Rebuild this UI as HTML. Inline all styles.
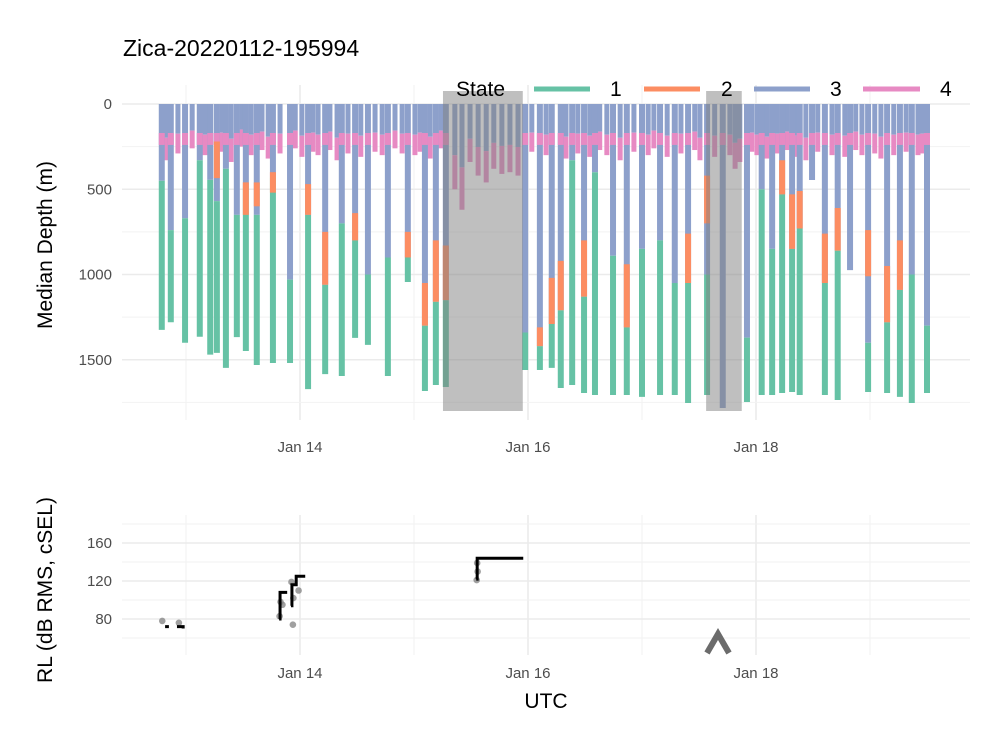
<!DOCTYPE html>
<html><head><meta charset="utf-8"><style>
html,body{margin:0;padding:0;background:#fff}
svg{display:block;font-family:"Liberation Sans",sans-serif}
</style></head><body>
<svg id="c" width="1004" height="750" viewBox="0 0 1004 750">
<text x="123" y="56" font-size="23" fill="#000">Zica-20220112-195994</text>
<g id="topgrid"></g>
<g id="dives"></g>
<g id="shade"></g>
<g id="botgrid"></g>
<g id="rl"></g>
<g id="axes"></g>
<g>
<text x="456" y="96" font-size="21">State</text>
<line x1="534" y1="89" x2="590" y2="89" stroke="#66c2a5" stroke-width="5"/>
<text x="610" y="96" font-size="21">1</text>
<line x1="644" y1="89" x2="700" y2="89" stroke="#fc8d62" stroke-width="5"/>
<text x="721" y="96" font-size="21">2</text>
<line x1="754" y1="89" x2="810" y2="89" stroke="#8da0cb" stroke-width="5"/>
<text x="830" y="96" font-size="21">3</text>
<line x1="863" y1="89" x2="920" y2="89" stroke="#e78ac3" stroke-width="5"/>
<text x="940" y="96" font-size="21">4</text>
</g>
<text x="546" y="708" font-size="21" text-anchor="middle">UTC</text>
<text transform="translate(52,245) rotate(-90)" font-size="21" text-anchor="middle">Median Depth (m)</text>
<text transform="translate(52,590) rotate(-90)" font-size="21" text-anchor="middle">RL (dB RMS, cSEL)</text>
<polyline points="707,653 718,634 729,653" fill="none" stroke="#6b6b6b" stroke-width="6"/>
</svg>
<script>
// hours since Jan 13 00:00 UTC
const deepHours=[-5.1,-3.2,-0.2,2.9,5.1,6.5,8.4,10.7,12.6,14.9,18.3,21.9,25.7,29.3,32.8,35.6,38.3,42.5,46.7,50.3,52.6,54.7,
71.4,74.5,77.0,78.9,81.3,83.8,86.1,89.9,92.8,96.0,99.8,102.9,105.7,109.7,113.0,118.1,121.2,123.4,125.5,127.6,129.2,131.8,134.5,137.2,139.8,143.6,147.6,150.3,152.8,156.0];
const deepDepth=[1325,1280,1400,1365,1470,1460,1548,1367,1449,1531,1519,1519,1672,1584,1595,1372,1413,1595,1044,1683,1648,1660,
1560,1560,1548,1666,1648,1695,1707,1707,1707,1718,1707,1707,1754,1707,1783,1748,1707,1707,1695,1689,1707,446,1707,1736,974,1689,1695,1718,1754,1695];
const greenFrom=[450,740,670,330,445,570,380,650,480,650,430,1030,650,1060,700,800,1000,900,900,1300,1160,1150,
1340,1420,1290,1210,330,1130,400,890,1310,850,800,1050,1050,1000,1783,1370,500,850,530,850,730,9999,1050,860,1000,1400,1280,1090,1000,1300];
const orangeFrom=[0,0,0,0,0,220,0,0,460,460,400,0,470,750,0,640,0,0,750,1050,800,830,
0,1310,1020,920,0,800,0,0,940,0,0,0,760,420,0,0,0,0,330,530,510,0,760,610,0,740,950,800,0,0];
const orangeTo=[0,0,0,0,0,435,0,0,650,600,520,0,650,1060,0,800,0,0,900,1300,1160,1150,
0,1420,1290,1210,0,1130,0,0,1310,0,0,0,1050,700,0,0,0,0,530,850,730,0,1050,860,0,1010,1280,1090,0,0];
const shallowHours=[-4.2,-1.7,1.3,4.0,7.6,9.5,11.8,13.7,16.0,17.3,19.8,23.0,24.4,26.7,27.8,30.3,31.8,34.1,36.8,39.8,41.3,44.0,45.5,48.2,49.3,51.4,53.7,
56.6,58.1,59.8,61.5,63.2,64.8,66.5,68.2,69.9,
72.8,75.8,80.0,82.5,85.0,87.1,88.6,91.4,94.3,97.3,98.5,101.3,104.2,107.1,108.2,111.3,114.5,115.6,116.6,119.1,120.2,122.3,124.4,126.5,128.6,130.5,133.0,136.0,138.7,141.0,142.3,145.0,146.3,149.0,151.6,154.1,154.9];
const shallowDepth=[330,290,260,300,280,340,250,300,270,320,290,260,310,280,300,270,330,290,310,280,300,260,290,300,280,320,260,
500,620,340,420,460,380,410,400,420,
280,300,320,290,310,270,300,330,280,300,260,310,290,270,330,310,300,380,340,280,300,320,290,270,310,330,280,300,310,270,300,290,320,300,280,300,290];
const shadeStart=[54.1,109.5];
const shadeEnd=[70.9,117.0];
const rlHours=[-4.4,-3.6,null,-1.9,-0.6,null,19.6,19.8,21.3,null,22.1,22.3,23.1,23.2,25.1,null,61.1,61.3,71.0];
const rlValues=[72,72,null,72,70,null,80,108,108,null,94,116,116,125,125,null,122,144,144];
const ptHours=[-5.0,-1.5,19.7,19.9,20.3,22.5,22.2,22.6,23.7,61.2,61.4,61.3];
const ptValues=[78,76,83,98,95,74,119,102,110,121,130,139];
const yTicksDepth=[0,500,1000,1500];
const yTicksRL=[80,120,160];
const xTickHours=[24,72,120];
const xTickLabels=["Jan 14","Jan 16","Jan 18"];

const NS="http://www.w3.org/2000/svg";
const xS=h=>186+h*114/24;
const yD=d=>104+d*0.1705;
const yR=v=>619-(v-80)*0.95;
function mk(tag,attrs,parent){const e=document.createElementNS(NS,tag);for(const k in attrs)e.setAttribute(k,attrs[k]);parent.appendChild(e);return e;}
const G=id=>document.getElementById(id);

const tg=G('topgrid');
[24,72,120].forEach(h=>{const l=mk('line',{x1:xS(h),x2:xS(h),y1:85,y2:420,stroke:'#ebebeb','stroke-width':1.6},tg);});
[0,48,96,144].forEach(h=>{const l=mk('line',{x1:xS(h),x2:xS(h),y1:85,y2:420,stroke:'#f2f2f2','stroke-width':1},tg);});
yTicksDepth.forEach(d=>{const l=mk('line',{x1:122,x2:970,y1:yD(d),y2:yD(d),stroke:'#ebebeb','stroke-width':1.6},tg);});
[250,750,1250,1750].forEach(d=>{const l=mk('line',{x1:122,x2:970,y1:yD(d),y2:yD(d),stroke:'#f2f2f2','stroke-width':1},tg);});
const bg=G('botgrid');
[24,72,120].forEach(h=>{const l=mk('line',{x1:xS(h),x2:xS(h),y1:515,y2:655,stroke:'#ebebeb','stroke-width':1.6},bg);});
[0,48,96,144].forEach(h=>{const l=mk('line',{x1:xS(h),x2:xS(h),y1:515,y2:655,stroke:'#f2f2f2','stroke-width':1},bg);});
yTicksRL.forEach(v=>{const l=mk('line',{x1:122,x2:970,y1:yR(v),y2:yR(v),stroke:'#ebebeb','stroke-width':1.6},bg);});
[60,100,140,180].forEach(v=>{const l=mk('line',{x1:122,x2:970,y1:yR(v),y2:yR(v),stroke:'#f2f2f2','stroke-width':1},bg);});

const dv=G('dives');
function seg(h,a,b,col,w,parent){if(b<=a)return;const l=mk('line',{x1:xS(h),x2:xS(h),y1:yD(a),y2:yD(b),stroke:col,'stroke-width':w},parent);}
shallowHours.forEach((h,i)=>{const d=shallowDepth[i];seg(h,0,d*0.6,'#8da0cb',5,dv);seg(h,d*0.6,d,'#e78ac3',5,dv);});
deepHours.forEach((h,i)=>{const d=deepDepth[i],g=Math.min(greenFrom[i],d);
 seg(h,0,g,'#8da0cb',6,dv);
 seg(h,170,Math.min(240,g),'#e78ac3',6,dv);
 seg(h,g,d,'#66c2a5',6,dv);
 if(orangeTo[i]>0)seg(h,orangeFrom[i],orangeTo[i],'#fc8d62',6,dv);});

const sh=G('shade');
shadeStart.forEach((s,i)=>{const r=mk('rect',{x:xS(s),y:91,width:xS(shadeEnd[i])-xS(s),height:320,fill:'#7f7f7f','fill-opacity':0.5},sh);});

const rl=G('rl');
ptHours.forEach((h,i)=>{const c=mk('circle',{cx:xS(h),cy:yR(ptValues[i]),r:3.3,fill:'#808080','fill-opacity':0.75},rl);});
let d='',prev=null;
rlHours.forEach((h,i)=>{const v=rlValues[i];if(h===null){prev=null;return;}
 if(prev===null)d+=`M${xS(h)},${yR(v)}`;else d+=`H${xS(h)}V${yR(v)}`;prev=[h,v];});
const p=mk('path',{d:d,fill:'none',stroke:'#000','stroke-width':3},rl);



const ax=G('axes');
yTicksDepth.forEach(v=>{const t=mk('text',{x:112,y:yD(v)+5,'font-size':15,fill:'#4d4d4d','text-anchor':'end'},ax);t.textContent=v;});
yTicksRL.forEach(v=>{const t=mk('text',{x:112,y:yR(v)+5,'font-size':15,fill:'#4d4d4d','text-anchor':'end'},ax);t.textContent=v;});
xTickHours.forEach((h,i)=>{[452,678].forEach(y=>{const t=mk('text',{x:xS(h),y:y,'font-size':15,fill:'#4d4d4d','text-anchor':'middle'},ax);t.textContent=xTickLabels[i];});});
</script>
</body></html>
